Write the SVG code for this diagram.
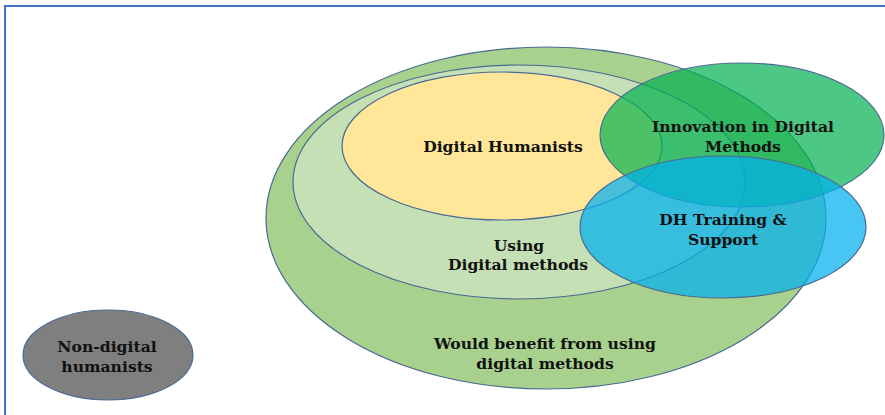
<svg xmlns="http://www.w3.org/2000/svg" width="885" height="415" viewBox="0 0 885 415">
<style>
.e{stroke:#4a6a94;stroke-width:1.2}
.t{font-family:"DejaVu Serif","Liberation Serif",serif;font-weight:bold;font-size:15.6px;fill:#111;text-anchor:middle}
</style>
<rect width="885" height="415" fill="#fff"/>
<rect x="5" y="6" width="900" height="430" fill="none" stroke="#4472c4" stroke-width="2"/>
<g id="would-benefit">
<ellipse class="e" cx="546" cy="218" rx="280" ry="171" fill="#a9d18e"/>
<text class="t" x="545" y="349">Would benefit from using</text>
<text class="t" x="545" y="369">digital methods</text>
</g>
<g id="using-digital">
<ellipse class="e" cx="519" cy="182" rx="226" ry="117" fill="#c5e0b4"/>
<text class="t" x="519" y="251">Using</text>
<text class="t" x="518" y="270">Digital methods</text>
</g>
<g id="digital-humanists">
<ellipse class="e" cx="502" cy="146" rx="160" ry="74" fill="#ffe699"/>
<text class="t" x="503" y="152">Digital Humanists</text>
</g>
<g id="innovation">
<ellipse class="e" cx="742" cy="135" rx="142" ry="72" fill="#00b050" fill-opacity="0.7"/>
<text class="t" x="743" y="132">Innovation in Digital</text>
<text class="t" x="743" y="152">Methods</text>
</g>
<g id="dh-training">
<ellipse class="e" cx="723" cy="227" rx="143" ry="71" fill="#00b0f0" fill-opacity="0.72"/>
<text class="t" x="723" y="225">DH Training &amp;</text>
<text class="t" x="723" y="245">Support</text>
</g>
<g id="non-digital">
<ellipse class="e" cx="108" cy="355" rx="85" ry="45" fill="#7f7f7f"/>
<text class="t" x="107" y="352">Non-digital</text>
<text class="t" x="107" y="372">humanists</text>
</g>
<g id="connectors"></g>
</svg>
